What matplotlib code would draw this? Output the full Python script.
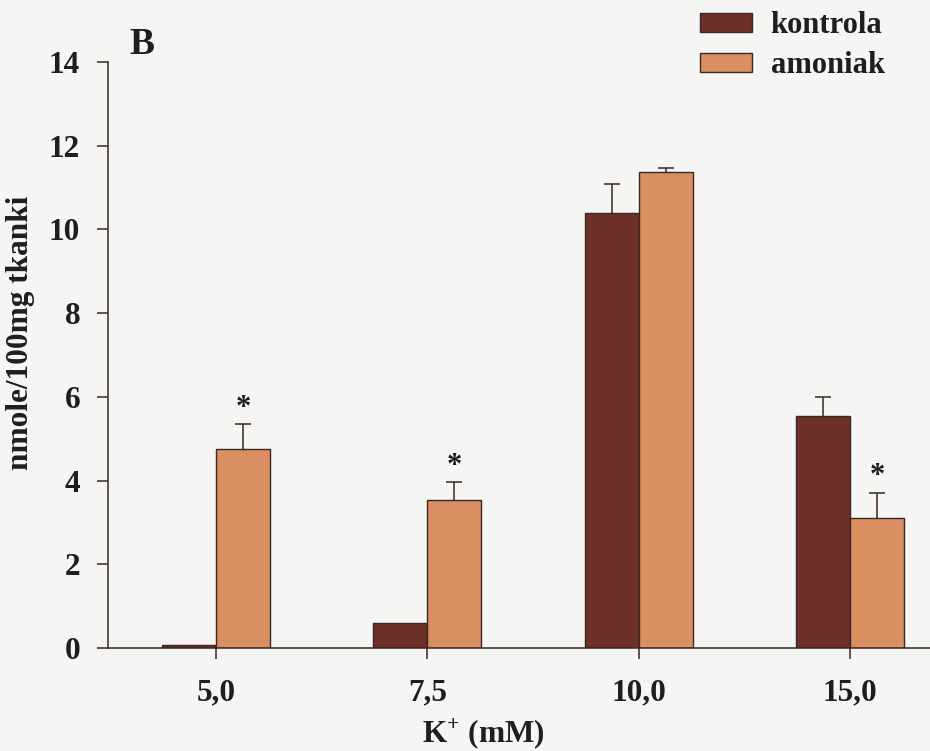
import numpy as np
import matplotlib
matplotlib.use("Agg")
import matplotlib.pyplot as plt

# K+ concentrations and measured values (nmole/100mg tissue)
groups = ["5,0", "7,5", "10,0", "15,0"]
kontrola = [0.08, 0.60, 10.39, 5.55]
kontrola_err = [0.0, 0.0, 0.69, 0.45]
amoniak = [4.75, 3.54, 11.37, 3.11]
amoniak_err = [0.60, 0.42, 0.10, 0.60]
signif = [True, True, False, True]  # asterisk over amoniak bar

plt.rcParams["font.family"] = ["Liberation Serif", "DejaVu Serif"]
plt.rcParams["font.weight"] = "bold"
plt.rcParams["mathtext.fontset"] = "custom"
plt.rcParams["mathtext.rm"] = "Liberation Serif"
plt.rcParams["mathtext.bf"] = "Liberation Serif:bold"

bg = "#f5f5f3"
c_kon = "#6e3129"
c_amo = "#d98f62"
edge = "#3a2622"
txt = "#1e1e1e"

fig = plt.figure(figsize=(9.3, 7.51), dpi=100, facecolor=bg)
ax = fig.add_axes([108 / 930, 1 - 648 / 751, 1 - 108 / 930, (648 - 62) / 751])
ax.set_facecolor(bg)

x = np.arange(len(groups))
w = 0.256
cap = 0.038
b1 = ax.bar(x - w / 2, kontrola, w, color=c_kon, edgecolor=edge,
            linewidth=1.0, label="kontrola")
b2 = ax.bar(x + w / 2, amoniak, w, color=c_amo, edgecolor=edge,
            linewidth=1.0, label="amoniak")


def up_errors(xs, vals, errs):
    # one-sided (upper) error bars with a cap
    for xi, v, e in zip(xs, vals, errs):
        if e <= 0:
            continue
        ax.vlines(xi, v, v + e, color=edge, linewidth=1.1, zorder=3)
        ax.hlines(v + e, xi - cap, xi + cap, color=edge, linewidth=1.1, zorder=3)


up_errors(x - w / 2, kontrola, kontrola_err)
up_errors(x + w / 2, amoniak, amoniak_err)

for i in range(len(groups)):
    if signif[i]:
        ax.text(x[i] + w / 2, amoniak[i] + amoniak_err[i] + 0.38, "*",
                ha="center", va="center", fontsize=22, fontweight="bold",
                color=txt)

ax.set_xlim(-0.511, 3.379)
ax.set_ylim(0, 14)
ax.set_yticks(range(0, 15, 2))
ax.set_xticks(x)
ax.set_xticklabels(groups)

for s in ["top", "right"]:
    ax.spines[s].set_visible(False)
for s in ["left", "bottom"]:
    ax.spines[s].set_color(edge)
    ax.spines[s].set_linewidth(1.1)

ax.tick_params(axis="y", direction="out", length=8, width=1.1, color=edge,
               labelsize=22.5, pad=12, labelcolor=txt)
ax.tick_params(axis="x", direction="out", length=8, width=1.1, color=edge,
               labelsize=22.5, pad=14, labelcolor=txt)
for lab in ax.get_xticklabels() + ax.get_yticklabels():
    lab.set_fontweight("bold")

fig.text(21 / 930, 1 - 333 / 751, "nmole/100mg tkanki", rotation=90,
         ha="center", va="center", fontsize=22.5, fontweight="bold", color=txt)
fig.text(483 / 930, 1 - 734 / 751, r"K$^{+}$ (mM)", ha="center", va="center",
         fontsize=22.5, fontweight="bold", color=txt)

fig.text(142 / 930, 1 - 45 / 751, "B", ha="center", va="center",
         fontsize=27, fontweight="bold", color=txt)

leg = fig.legend(handles=[b1, b2], loc="upper left",
                 bbox_to_anchor=(685 / 930, 1.0 + 4 / 751), frameon=False,
                 fontsize=22, handlelength=1.7, handleheight=0.6,
                 handletextpad=0.6, labelspacing=0.35, borderaxespad=0.1)
for t in leg.get_texts():
    t.set_fontweight("bold")
    t.set_color(txt)

fig.savefig("out.png", dpi=100, facecolor=bg)
